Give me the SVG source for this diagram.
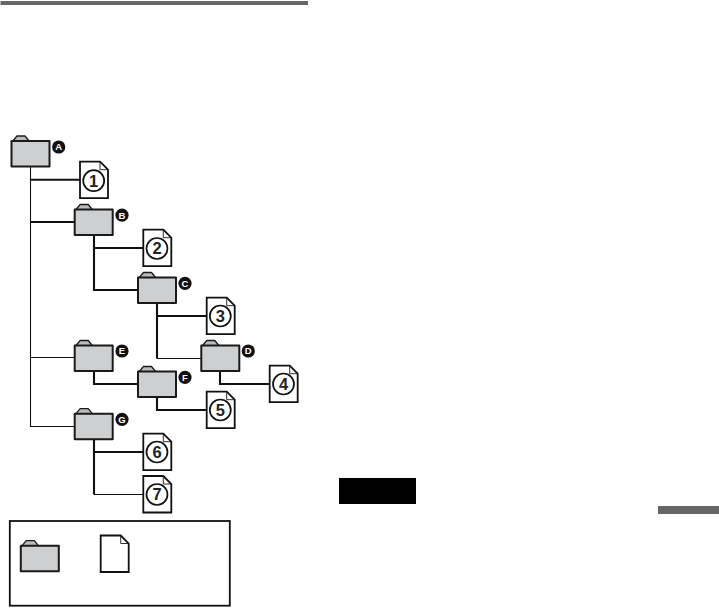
<svg xmlns="http://www.w3.org/2000/svg" width="719" height="608" viewBox="0 0 719 608">
<style>
.fb{fill:#cdcfd0;stroke:#1a1a1a;stroke-width:2;stroke-linejoin:round}
.ft{fill:#b9bbbc;stroke:#1a1a1a;stroke-width:1.3;stroke-linejoin:round}
.dp{fill:#fff;stroke:#111;stroke-width:1.8;stroke-linejoin:miter}
.df{fill:none;stroke:#1a1a1a;stroke-width:.9}
.dc{fill:#fff;stroke:#111;stroke-width:1.7}
.num{font-family:"Liberation Sans",Arial,sans-serif;font-weight:bold;font-size:16.5px;fill:#222;text-anchor:middle}
.bd{fill:#111}
.let{font-family:"Liberation Sans",Arial,sans-serif;font-weight:bold;font-size:9.5px;fill:#fff;text-anchor:middle}
.thick{fill:none;stroke:#111;stroke-width:2.1}
.thin{fill:none;stroke:#111;stroke-width:1.1}
</style>
<defs>
<g id="folder">
<path class="ft" d="M0.8 0.5 L5.5 -5 L13.5 -5 L18 0.5 Z"/>
<rect class="fb" x="0" y="0" width="38" height="25.5"/>
</g>
<g id="doc">
<path class="dp" d="M0 0 H20 L28 8 V36.5 H0 Z"/>
<path class="df" d="M20 0 V8 H28"/>
</g>
</defs>
<rect width="719" height="608" fill="#fff"/>
<rect x="0.5" y="1" width="307.5" height="4" fill="#666"/>
<rect x="339" y="478" width="77" height="26" fill="#000"/>
<rect x="658" y="506" width="61" height="8" fill="#666"/>
<g id="connectors">
<path class="thin" d="M30.5 167 V426.5 H75"/>
<path class="thin" d="M30.5 357.5 H75"/>
<path class="thick" d="M30.5 179.7 H80"/>
<path class="thick" d="M30.5 222 H75"/>
<path class="thick" d="M94 235 V290 H138"/>
<path class="thick" d="M94 248 H143"/>
<path class="thick" d="M157 303 V316 H207"/>
<path class="thick" d="M157 316 V358.5"/>
<path class="thin" d="M157 358.5 H201"/>
<path class="thick" d="M220 371 V384 H270"/>
<path class="thick" d="M94 371 V384 H138"/>
<path class="thick" d="M157 397 V410 H207"/>
<path class="thick" d="M94 439 V452 H143"/>
<path class="thick" d="M94 452 V494.5"/>
<path class="thin" d="M94 494.5 H143"/>
</g>
<g id="folder-a"><use href="#folder" x="11.5" y="141"/><circle class="bd" cx="58.7" cy="147" r="6.6"/><text class="let" x="58.7" y="150.4">A</text></g>
<g id="folder-b"><use href="#folder" x="74.7" y="209.5"/><circle class="bd" cx="122" cy="215.2" r="6.6"/><text class="let" x="122" y="218.6">B</text></g>
<g id="folder-c"><use href="#folder" x="138" y="277.5"/><circle class="bd" cx="185" cy="283.3" r="6.6"/><text class="let" x="185" y="286.7">C</text></g>
<g id="folder-d"><use href="#folder" x="201.3" y="345.5"/><circle class="bd" cx="248.3" cy="351" r="6.6"/><text class="let" x="248.3" y="354.4">D</text></g>
<g id="folder-e"><use href="#folder" x="74.7" y="345.5"/><circle class="bd" cx="122" cy="351" r="6.6"/><text class="let" x="122" y="354.4">E</text></g>
<g id="folder-f"><use href="#folder" x="138" y="371.5"/><circle class="bd" cx="185" cy="377.3" r="6.6"/><text class="let" x="185" y="380.7">F</text></g>
<g id="folder-g"><use href="#folder" x="74.7" y="413.7"/><circle class="bd" cx="122" cy="419.3" r="6.6"/><text class="let" x="122" y="422.7">G</text></g>
<g id="doc-1"><use href="#doc" x="80" y="161.7"/><circle class="dc" cx="93.7" cy="180.7" r="10.5"/><text class="num" x="93.7" y="186.6">1</text></g>
<g id="doc-2"><use href="#doc" x="143.3" y="229.7"/><circle class="dc" cx="157" cy="248.5" r="10.5"/><text class="num" x="157" y="254.4">2</text></g>
<g id="doc-3"><use href="#doc" x="206.7" y="297.7"/><circle class="dc" cx="220.3" cy="316" r="10.5"/><text class="num" x="220.3" y="321.9">3</text></g>
<g id="doc-4"><use href="#doc" x="269.7" y="365.7"/><circle class="dc" cx="283.5" cy="384" r="10.5"/><text class="num" x="283.5" y="389.9">4</text></g>
<g id="doc-5"><use href="#doc" x="206.7" y="391.7"/><circle class="dc" cx="220.3" cy="410" r="10.5"/><text class="num" x="220.3" y="415.9">5</text></g>
<g id="doc-6"><use href="#doc" x="143.3" y="433.7"/><circle class="dc" cx="157" cy="452" r="10.5"/><text class="num" x="157" y="457.9">6</text></g>
<g id="doc-7"><use href="#doc" x="143.3" y="476"/><circle class="dc" cx="157" cy="494.5" r="10.5"/><text class="num" x="157" y="500.4">7</text></g>
<g id="legend">
<rect x="9.8" y="521" width="220" height="84.7" fill="#fff" stroke="#111" stroke-width="1.8"/>
<use href="#folder" x="20.8" y="545.7"/>
<use href="#doc" x="100.7" y="535.5"/>
</g>
</svg>
